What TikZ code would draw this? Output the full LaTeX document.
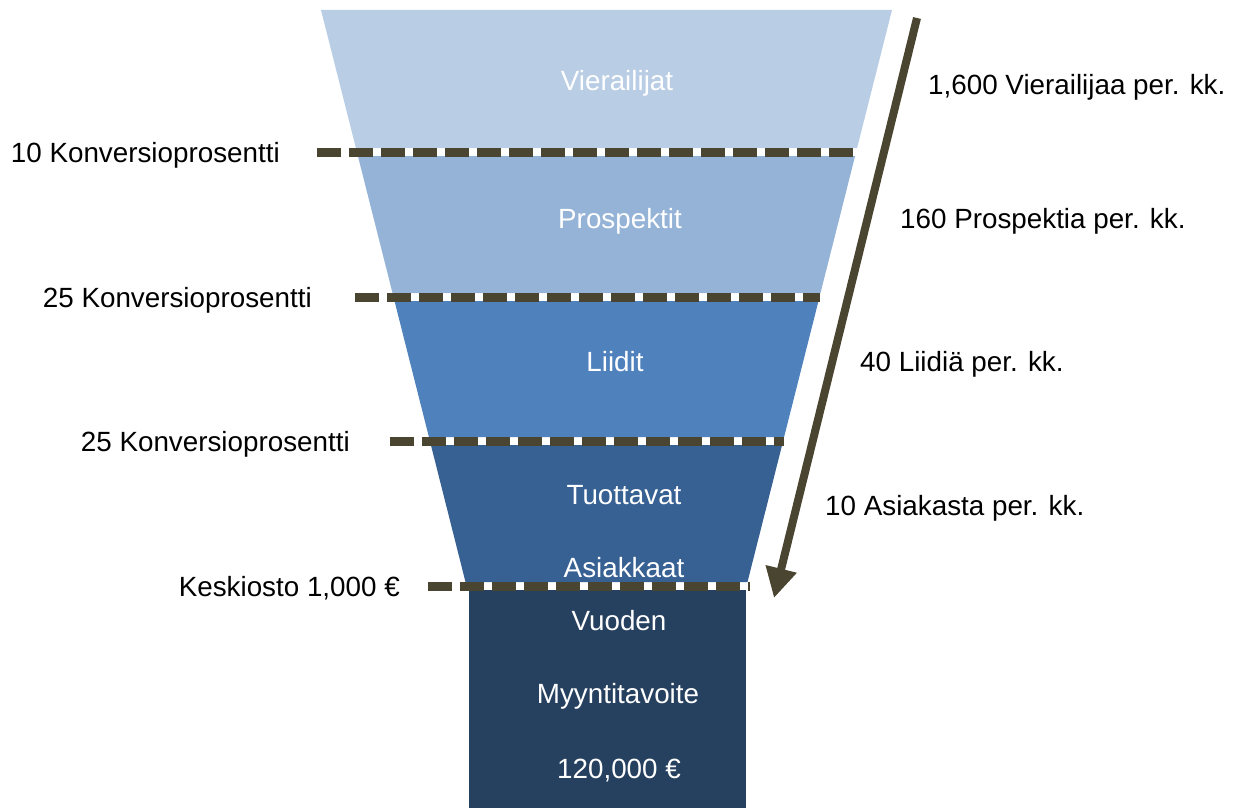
\documentclass[tikz,border=0pt]{standalone}
\usepackage{fontspec}
\setmainfont{Liberation Sans}
\usetikzlibrary{arrows.meta}
\definecolor{stageA}{HTML}{B9CDE5}
\definecolor{stageB}{HTML}{95B3D7}
\definecolor{stageC}{HTML}{4F81BD}
\definecolor{stageD}{HTML}{376093}
\definecolor{stageE}{HTML}{26405F}
\definecolor{olive}{HTML}{4A4530}
\tikzset{
  lbl/.style={inner sep=0pt, font=\fontsize{27.8}{33}\selectfont, text=black},
  inlbl/.style={inner sep=0pt, anchor=base, font=\fontsize{27.8}{33}\selectfont, text=white},
  cut/.style={draw=olive, line width=9pt, dash pattern=on 24pt off 8pt},
  flow/.style={draw=olive, line width=8pt, -{Triangle[length=30pt,width=30pt]}}
}
\begin{document}
\begin{tikzpicture}[x=1pt,y=-1pt]
\useasboundingbox (0,0) rectangle (1240,808);
% funnel stages
\fill[stageA] (321,10) -- (892,10) -- (857.1,148) -- (355.9,148) -- cycle;
\fill[stageB] (357.9,156) -- (855.1,156) -- (820.5,293) -- (392.5,293) -- cycle;
\fill[stageC] (394.5,301) -- (818.5,301) -- (784.1,437) -- (428.9,437) -- cycle;
\fill[stageD] (430.9,445) -- (782.1,445) -- (747.5,582) -- (465.5,582) -- cycle;
\fill[stageE] (469,590) rectangle (746,808);
% conversion cuts
\coordinate (c1a) at (317,152); \coordinate (c1b) at (856,152);
\coordinate (c2a) at (355,297); \coordinate (c2b) at (820,297);
\coordinate (c3a) at (390,441); \coordinate (c3b) at (784,441);
\coordinate (c4a) at (428,586); \coordinate (c4b) at (750,586);
\draw[cut] (c1a) -- (c1b);
\draw[cut] (c2a) -- (c2b);
\draw[cut] (c3a) -- (c3b);
\draw[cut] (c4a) -- (c4b);
% flow arrow
\coordinate (fs) at (917,18);
\coordinate (fe) at (774,598);
\draw[flow] (fs) -- (fe);
% stage names
\node[inlbl] (s1) at (617,90) {Vierailijat};
\node[inlbl] (s2) at (620,228) {Prospektit};
\node[inlbl] (s3) at (615,371) {Liidit};
\node[inlbl] (s4a) at (624,504) {Tuottavat};
\node[inlbl] (s4b) at (624,577) {Asiakkaat};
\node[inlbl] (s5a) at (619,630) {Vuoden};
\node[inlbl] (s5b) at (618,703) {Myyntitavoite};
\node[inlbl] (s5c) at (619,778) {120,000 €};
% conversion rates
\node[lbl, anchor=base east] (r1) at (280,162) {10 Konversioprosentti};
\node[lbl, anchor=base east] (r2) at (312,307) {25 Konversioprosentti};
\node[lbl, anchor=base east] (r3) at (350,451) {25 Konversioprosentti};
\node[lbl, anchor=base east] (r4) at (400,596) {Keskiosto 1,000 €};
% monthly volumes
\node[lbl, anchor=base west] (v1) at (928,95) {1,600 Vierailijaa per. kk.};
\node[lbl, anchor=base west] (v2) at (900,228) {160 Prospektia per. kk.};
\node[lbl, anchor=base west] (v3) at (860,371) {40 Liidiä per. kk.};
\node[lbl, anchor=base west] (v4) at (825,515) {10 Asiakasta per. kk.};
\end{tikzpicture}
\end{document}
